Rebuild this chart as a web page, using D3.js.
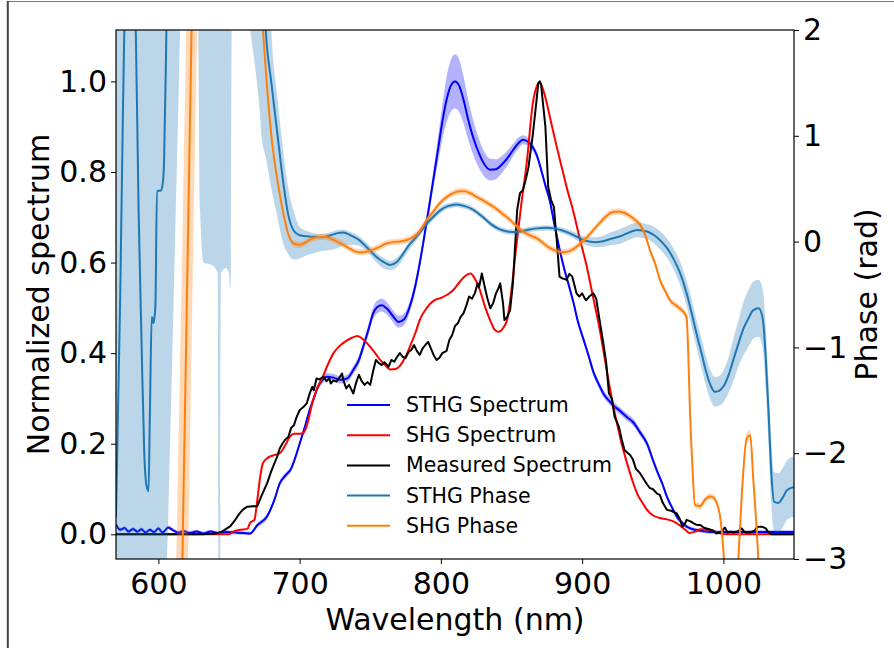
<!DOCTYPE html>
<html>
<head>
<meta charset="utf-8">
<script src="https://cdn.jsdelivr.net/npm/d3@7"></script>
<style>
  body { margin: 0; background: #fff; }
  svg { display: block; font-family: "DejaVu Sans", sans-serif; }
</style>
</head>
<body>
<svg id="chart" width="894" height="648"></svg>
<script>
// ---- data ----
var xTicks = [600, 700, 800, 900, 1000];
var specTicks = [0.0, 0.2, 0.4, 0.6, 0.8, 1.0];
var phaseTicks = [-3, -2, -1, 0, 1, 2];
var legendLabels = ["STHG Spectrum", "SHG Spectrum", "Measured Spectrum", "STHG Phase", "SHG Phase"];

// STHG spectrum (blue) with half-width of shaded band
var sthgSpecWl = [570,573,576,579,582,585,588,591,594,597,600,603,607,610,614,618,622,627,632,637,642,648,654,660,665,670,677,682,686,690,694,697,700,704,707,710,713,716,719,724,729,734,738,742,745,749,752,755,758,762,766,770,774,778,782,785,789,792,795,798,801,804,807,810,813,816,819,823,827,831,835,839,843,847,851,855,858,861,865,868,871,874,877,880,884,887,891,894,897,901,905,908,912,915,919,922,927,932,936,941,946,950,953,957,960,964,967,971,974,980,986,995,1010,1030,1050];
var sthgSpecVal = [0.022,0.010,0.014,0.006,0.012,0.006,0.011,0.004,0.010,0.005,0.013,0.004,0.015,0.010,0.004,0.007,0.003,0.006,0.002,0.006,0.003,0.005,0.004,0.003,0.002,0.020,0.040,0.075,0.113,0.130,0.145,0.170,0.200,0.240,0.274,0.300,0.326,0.340,0.348,0.346,0.341,0.345,0.363,0.385,0.414,0.455,0.488,0.502,0.506,0.498,0.482,0.469,0.475,0.503,0.550,0.598,0.672,0.730,0.790,0.850,0.910,0.959,0.990,1.000,0.990,0.960,0.920,0.875,0.841,0.816,0.805,0.806,0.816,0.830,0.848,0.864,0.871,0.868,0.855,0.836,0.805,0.770,0.738,0.690,0.630,0.590,0.545,0.510,0.470,0.430,0.390,0.358,0.330,0.311,0.295,0.285,0.272,0.258,0.248,0.225,0.200,0.165,0.140,0.110,0.083,0.057,0.039,0.025,0.017,0.010,0.007,0.005,0.005,0.005,0.005];
var sthgSpecErr = [0.004,0.004,0.004,0.004,0.004,0.004,0.004,0.004,0.004,0.004,0.004,0.004,0.004,0.004,0.004,0.004,0.004,0.004,0.004,0.004,0.004,0.004,0.004,0.004,0.004,0.005,0.006,0.006,0.006,0.006,0.006,0.006,0.007,0.007,0.007,0.007,0.008,0.008,0.008,0.008,0.008,0.008,0.009,0.010,0.011,0.012,0.013,0.014,0.014,0.014,0.013,0.013,0.013,0.012,0.012,0.012,0.014,0.017,0.020,0.028,0.038,0.050,0.057,0.060,0.058,0.052,0.045,0.038,0.032,0.027,0.024,0.022,0.019,0.017,0.014,0.012,0.010,0.009,0.008,0.008,0.008,0.008,0.008,0.008,0.008,0.008,0.008,0.008,0.008,0.008,0.008,0.008,0.008,0.008,0.008,0.008,0.008,0.008,0.008,0.008,0.007,0.007,0.006,0.006,0.006,0.005,0.005,0.005,0.004,0.004,0.004,0.004,0.004,0.004,0.004];

// SHG spectrum (red)
var shgSpecWl = [570,650,653,658,663,665,668,670,672,674,677,681,686,690,693,696,700,703,706,709,712,716,720,724,728,732,737,741,745,750,754,757,761,764,768,771,775,778,782,785,790,795,800,805,809,813,817,821,824,828,831,835,838,841,844,847,850,853,857,861,865,868,870,872,875,878,882,886,889,894,898,903,908,912,917,921,925,928,932,936,939,943,946,950,955,960,965,969,973,976,980,984,990,995,998,1005,1050];
var shgSpecVal = [0,0,0.006,0.010,0.012,0.026,0.032,0.075,0.125,0.157,0.168,0.174,0.179,0.198,0.215,0.222,0.222,0.225,0.250,0.290,0.319,0.345,0.375,0.400,0.415,0.425,0.434,0.438,0.430,0.414,0.398,0.385,0.372,0.364,0.365,0.372,0.392,0.414,0.445,0.473,0.500,0.516,0.522,0.530,0.540,0.556,0.570,0.576,0.565,0.536,0.505,0.472,0.452,0.447,0.455,0.475,0.540,0.625,0.730,0.826,0.950,0.990,0.998,0.985,0.952,0.910,0.856,0.805,0.767,0.710,0.657,0.595,0.520,0.460,0.370,0.300,0.240,0.200,0.155,0.115,0.090,0.068,0.054,0.042,0.036,0.033,0.028,0.020,0.010,0.003,0.006,0.011,0.010,0.005,0.002,0,0];

// measured spectrum (black)
var measWl = [570,600,630,641,645,648,651,654,657,660,663,667,670,673,677,680,684,686,688,690,692,694,696,698,700,703,705,707,709,710,712,714,717,719,721,722,724,726,728,730,731,733,735,738,740,742,744,746,748,750,752,754,756,758,760,763,765,767,769,771,773,775,777,779,781,783,785,787,789,791,793,795,797,799,801,804,806,808,810,812,814,816,818,820,822,824,826,827,829,831,833,835,837,839,841,842,844,845,847,849,851,853,854,856,858,860,862,863,865,867,869,870,871,872,874,876,878,880,882,884,886,889,891,893,895,896,898,900,902,903,905,908,910,912,915,917,919,921,923,926,928,930,932,934,936,938,941,943,946,948,950,953,955,957,960,963,967,969,971,973,974,977,979,981,984,986,988,991,993,995,998,1001,1003,1005,1007,1010,1013,1015,1017,1019,1022,1024,1026,1028,1030,1032,1034,1050];
var measVal = [0,0,0,0.002,0.006,0.012,0.018,0.030,0.044,0.055,0.061,0.062,0.062,0.085,0.113,0.140,0.171,0.190,0.201,0.210,0.215,0.235,0.241,0.260,0.274,0.282,0.289,0.310,0.326,0.318,0.344,0.342,0.348,0.338,0.345,0.333,0.340,0.337,0.345,0.355,0.340,0.322,0.330,0.311,0.335,0.352,0.338,0.330,0.336,0.330,0.360,0.385,0.378,0.374,0.380,0.370,0.385,0.381,0.392,0.400,0.392,0.389,0.402,0.407,0.418,0.405,0.396,0.410,0.418,0.425,0.410,0.395,0.385,0.390,0.400,0.405,0.429,0.440,0.460,0.466,0.480,0.488,0.505,0.525,0.520,0.532,0.554,0.545,0.576,0.547,0.520,0.499,0.510,0.532,0.545,0.554,0.510,0.473,0.480,0.495,0.554,0.660,0.716,0.753,0.760,0.782,0.810,0.834,0.880,0.937,0.996,1.000,0.992,0.960,0.900,0.767,0.738,0.723,0.650,0.569,0.565,0.562,0.575,0.569,0.545,0.532,0.525,0.532,0.520,0.517,0.525,0.532,0.520,0.480,0.422,0.380,0.311,0.300,0.260,0.238,0.210,0.186,0.180,0.175,0.165,0.145,0.135,0.125,0.110,0.102,0.100,0.090,0.087,0.070,0.054,0.052,0.046,0.035,0.017,0.025,0.032,0.028,0.024,0.021,0.020,0.015,0.013,0.010,0.008,0.002,0.004,0.015,0.004,0.006,0.004,0.006,0.013,0.005,0.004,0.004,0.008,0.016,0.017,0.016,0.013,0.004,0,0];

// STHG phase (rad) with lower / upper edge of its band
var sthgPhaseWl = [570,573,575,577,580,582,584,586,588,590,591.5,593,594,595.3,596.6,597.9,599,601.7,603,604,605.4,606,607,610,614,616,620,627,628,629.5,632,638,642,642.7,643.6,644.3,648,650,650.7,651.3,652,656,660,664,668,672,673,676,680,684,688,692,696,700,705,710,716,722,727,731,736,742,748,754,759,764,769,773,777,781,786,790,795,800,805,811,817,823,829,835,841,847,852,857,862,868,874,880,886,891,897,903,909,914,920,927,933,939,946,951,955,960,965,970,974,978,981,985,988,991,994,997,1000,1004,1007,1011,1014,1018,1021,1025,1028,1030,1032,1034,1036,1039,1042,1045,1050];
var sthgPhaseVal = [-2.6,-0.5,1.3,2.6,3.0,2.8,2.0,0.3,-0.9,-2.0,-2.3,-2.36,-1.62,-0.71,-0.77,-0.6,0.48,0.48,0.54,0.74,1.76,2.3,3.0,4,4,4,4,4,4,4,4,4,4,4,4,4,4,4,4,4,4,4,4,4,3.9,3.3,2.9,2.0,1.5,1.05,0.6,0.25,0.1,0.06,0.05,0.045,0.04,0.06,0.08,0.085,0.06,0.016,-0.06,-0.14,-0.19,-0.22,-0.19,-0.12,-0.04,0.02,0.1,0.17,0.24,0.30,0.335,0.35,0.335,0.30,0.24,0.17,0.12,0.095,0.09,0.097,0.112,0.125,0.13,0.125,0.105,0.08,0.04,0.005,-0.005,0.0,0.025,0.05,0.085,0.11,0.095,0.06,0.016,-0.06,-0.17,-0.32,-0.49,-0.70,-0.87,-1.08,-1.24,-1.36,-1.42,-1.41,-1.37,-1.25,-1.12,-0.95,-0.83,-0.72,-0.65,-0.63,-0.74,-1.1,-1.62,-2.2,-2.46,-2.47,-2.42,-2.35,-2.32];
var sthgPhaseLo = [-6,-6,-6,-6,-6,-6,-6,-6,-6,-6,-6,-6,-6,-6,-6,-6,-6,-6,-6,-6,-6,-3.2,-2.6,-1,1.2,2.2,2.5,2.5,2.2,0.3,-0.2,-0.22,-0.3,-4,-4,-0.3,-0.25,-0.3,-0.45,-0.3,2.2,2.5,2.5,2.1,1.7,1.2,1.0,0.8,0.5,0.25,0.0,-0.12,-0.17,-0.16,-0.13,-0.11,-0.09,-0.08,-0.06,-0.04,-0.03,-0.04,-0.1,-0.19,-0.25,-0.27,-0.24,-0.17,-0.09,-0.02,0.07,0.14,0.21,0.27,0.31,0.325,0.31,0.275,0.215,0.145,0.095,0.07,0.065,0.072,0.087,0.10,0.105,0.10,0.08,0.05,0.005,-0.035,-0.05,-0.05,-0.035,-0.02,0.015,0.04,0.025,-0.02,-0.07,-0.15,-0.27,-0.43,-0.61,-0.83,-1.0,-1.22,-1.38,-1.5,-1.56,-1.55,-1.52,-1.42,-1.32,-1.17,-1.08,-0.99,-0.92,-0.90,-1.02,-1.4,-1.92,-2.5,-2.74,-2.75,-2.70,-2.63,-2.60];
var sthgPhaseHi = [6,6,6,6,6,6,6,6,6,6,6,6,6,6,6,6,6,6,6,6,6,6,6,6,6,6,6,6,6,6,6,6,6,6,6,6,6,6,6,6,6,6,6,6,6,6,6,6,2.0,1.4,0.9,0.5,0.28,0.14,0.1,0.08,0.07,0.09,0.11,0.115,0.09,0.05,-0.02,-0.1,-0.15,-0.18,-0.15,-0.09,-0.01,0.05,0.13,0.2,0.27,0.33,0.36,0.375,0.36,0.325,0.265,0.195,0.145,0.12,0.115,0.122,0.137,0.15,0.155,0.15,0.13,0.11,0.075,0.045,0.04,0.05,0.085,0.12,0.155,0.18,0.165,0.14,0.10,0.03,-0.07,-0.21,-0.37,-0.57,-0.74,-0.94,-1.10,-1.22,-1.28,-1.27,-1.22,-1.08,-0.92,-0.73,-0.58,-0.45,-0.38,-0.36,-0.46,-0.8,-1.32,-1.9,-2.18,-2.19,-2.14,-2.07,-2.03];

// SHG phase (rad) with half-width of its band
var shgPhaseWl = [570,610,612,617,620,623.5,627,630,660,668,671,674,677,680,684,688,692,696,700,704,707,712,717,721,724,728,731,736,740,745,749,755,761,766,771,776,781,785,790,795,799,804,809,813,817,821,825,831,837,843,849,854,858,863,868,873,877,882,887,891,896,901,906,912,917,922,926,930,934,938,941,945,948,952,955,959,962,966,969,972.6,974,975,976.4,978,979.9,983.4,987,990.5,993,995.3,998,1000.4,1003,1008,1010.6,1013,1016.5,1019,1021.2,1024.7,1027,1050];
var shgPhaseVal = [-8,-8,-6.5,-3.0,-0.7,2.0,4.7,6,6,3.5,2.6,2.0,1.45,1.0,0.6,0.3,0.07,-0.02,-0.03,-0.01,0.016,0.04,0.047,0.035,0.016,-0.01,-0.03,-0.07,-0.095,-0.1,-0.09,-0.06,-0.02,-0.005,0.0,0.015,0.05,0.1,0.205,0.29,0.36,0.42,0.46,0.475,0.475,0.455,0.425,0.38,0.33,0.27,0.205,0.14,0.095,0.06,0.03,-0.02,-0.06,-0.09,-0.10,-0.09,-0.05,0.01,0.08,0.17,0.24,0.28,0.285,0.27,0.24,0.2,0.16,0.05,-0.08,-0.22,-0.36,-0.47,-0.55,-0.6,-0.63,-0.68,-0.72,-1.0,-1.62,-2.1,-2.49,-2.5,-2.44,-2.41,-2.42,-2.47,-2.63,-3.0,-3.8,-3.8,-3.0,-2.4,-1.86,-1.83,-2.25,-3.0,-3.8,-3.8];
var shgPhaseErr = [3,3,3,3,3,3,3,3,0.05,0.05,0.05,0.05,0.04,0.03,0.03,0.03,0.03,0.03,0.03,0.03,0.03,0.03,0.03,0.03,0.03,0.03,0.03,0.03,0.03,0.03,0.03,0.03,0.03,0.03,0.03,0.03,0.03,0.03,0.03,0.03,0.03,0.03,0.03,0.03,0.03,0.03,0.03,0.03,0.03,0.03,0.03,0.03,0.03,0.03,0.03,0.03,0.03,0.03,0.03,0.03,0.03,0.03,0.03,0.03,0.03,0.03,0.03,0.03,0.03,0.03,0.03,0.03,0.03,0.03,0.03,0.03,0.03,0.03,0.03,0.03,0.03,0.03,0.03,0.03,0.03,0.03,0.03,0.03,0.03,0.03,0.03,0.03,0.03,0.03,0.03,0.04,0.05,0.05,0.05,0.05,0.05,0.05];

function zipSeries(wl, val, lo, hi) {
  return wl.map(function(w, i) {
    return { wl: w, v: val[i], lo: lo ? lo[i] : null, hi: hi ? hi[i] : null };
  });
}

var sthgSpec = zipSeries(sthgSpecWl, sthgSpecVal,
  sthgSpecVal.map(function(v, i) { return v - sthgSpecErr[i]; }),
  sthgSpecVal.map(function(v, i) { return v + sthgSpecErr[i]; }));
var shgSpec = zipSeries(shgSpecWl, shgSpecVal);
var meas = zipSeries(measWl, measVal);
var sthgPhase = zipSeries(sthgPhaseWl, sthgPhaseVal, sthgPhaseLo, sthgPhaseHi);
var shgPhase = zipSeries(shgPhaseWl, shgPhaseVal,
  shgPhaseVal.map(function(v, i) { return v - shgPhaseErr[i]; }),
  shgPhaseVal.map(function(v, i) { return v + shgPhaseErr[i]; }));

// ---- layout ----
var svg = d3.select("#chart"),
    width = +svg.attr("width"),
    height = +svg.attr("height"),
    margin = { top: 30, right: 100, bottom: 89, left: 116 },
    plotW = width - margin.left - margin.right,
    plotH = height - margin.top - margin.bottom;

// frame of the original screenshot
svg.append("line").attr("x1", 7).attr("x2", width).attr("y1", 1.5).attr("y2", 1.5)
  .attr("stroke", "#777").attr("stroke-width", 1);
svg.append("line").attr("x1", 7.8).attr("x2", 7.8).attr("y1", 1).attr("y2", height)
  .attr("stroke", "#444").attr("stroke-width", 2);

var x = d3.scaleLinear().domain([570, 1050]).range([0, plotW]);
var ySpec = d3.scaleLinear().domain([-0.0545, 1.1135]).range([plotH, 0]);
var yPhase = d3.scaleLinear().domain([-3, 2]).range([plotH, 0]);

var g = svg.append("g").attr("transform", "translate(" + margin.left + "," + margin.top + ")");

svg.append("defs").append("clipPath").attr("id", "plotclip")
  .append("rect").attr("width", plotW).attr("height", plotH);

var plot = g.append("g").attr("clip-path", "url(#plotclip)");

var smooth = d3.curveMonotoneX;

// spectrum axis
plot.append("path").datum(sthgSpec)
  .attr("fill", "blue").attr("fill-opacity", 0.3)
  .attr("d", d3.area().curve(smooth).x(function(d) { return x(d.wl); })
    .y0(function(d) { return ySpec(d.lo); }).y1(function(d) { return ySpec(d.hi); }));

var specLine = d3.line().curve(smooth)
  .x(function(d) { return x(d.wl); }).y(function(d) { return ySpec(d.v); });

plot.append("path").datum(sthgSpec).attr("fill", "none").attr("stroke", "blue")
  .attr("stroke-width", 2).attr("d", specLine);
plot.append("path").datum(shgSpec).attr("fill", "none").attr("stroke", "red")
  .attr("stroke-width", 2).attr("d", specLine);
plot.append("path").datum(meas).attr("fill", "none").attr("stroke", "black")
  .attr("stroke-width", 2).attr("stroke-linejoin", "round")
  .attr("d", d3.line().x(function(d) { return x(d.wl); }).y(function(d) { return ySpec(d.v); }));

// phase axis (twin, drawn on top)
var phaseArea = d3.area().curve(smooth).x(function(d) { return x(d.wl); })
  .y0(function(d) { return yPhase(d.lo); }).y1(function(d) { return yPhase(d.hi); });
var phaseLine = d3.line().curve(smooth)
  .x(function(d) { return x(d.wl); }).y(function(d) { return yPhase(d.v); });

plot.append("path").datum(sthgPhase).attr("fill", "#1f77b4").attr("fill-opacity", 0.3)
  .attr("d", phaseArea);
plot.append("path").datum(sthgPhase).attr("fill", "none").attr("stroke", "#1f77b4")
  .attr("stroke-width", 2).attr("d", phaseLine);
plot.append("path").datum(shgPhase).attr("fill", "#ff7f0e").attr("fill-opacity", 0.3)
  .attr("d", phaseArea);
plot.append("path").datum(shgPhase).attr("fill", "none").attr("stroke", "#ff7f0e")
  .attr("stroke-width", 2).attr("d", phaseLine);

// axes
var tickFont = 30;
var xAxis = g.append("g").attr("transform", "translate(0," + plotH + ")")
  .call(d3.axisBottom(x).tickValues(xTicks).tickSize(5).tickPadding(7).tickFormat(d3.format("d")));
var yAxisL = g.append("g")
  .call(d3.axisLeft(ySpec).tickValues(specTicks).tickSize(5).tickPadding(4).tickFormat(d3.format(".1f")));
var yAxisR = g.append("g").attr("transform", "translate(" + plotW + ",0)")
  .call(d3.axisRight(yPhase).tickValues(phaseTicks).tickSize(5).tickPadding(4)
    .tickFormat(function(d) { return d < 0 ? "\u2212" + Math.abs(d) : d; }));

[xAxis, yAxisL, yAxisR].forEach(function(a) {
  a.select(".domain").remove();
  a.selectAll(".tick line").attr("stroke", "#000").attr("stroke-width", 1);
  a.selectAll(".tick text").attr("fill", "#000")
    .style("font-family", "DejaVu Sans").style("font-size", tickFont + "px");
});
xAxis.selectAll(".tick text").attr("dy", "0.75em");

g.append("rect").attr("width", plotW).attr("height", plotH)
  .attr("fill", "none").attr("stroke", "#000").attr("stroke-width", 1.2);

// axis labels
g.append("text").attr("x", plotW / 2).attr("y", plotH + 71)
  .attr("text-anchor", "middle")
  .style("font-size", "30px").text("Wavelength (nm)");
g.append("text").attr("transform", "translate(" + (-78) + "," + (plotH / 2) + ") rotate(-90)")
  .attr("text-anchor", "middle").attr("dominant-baseline", "central")
  .style("font-size", "30px").text("Normalized spectrum");
g.append("text").attr("transform", "translate(" + (plotW + 72) + "," + (plotH / 2) + ") rotate(-90)")
  .attr("text-anchor", "middle").attr("dominant-baseline", "central")
  .style("font-size", "30px").text("Phase (rad)");

// legend (no frame)
var legendColors = ["blue", "red", "black", "#1f77b4", "#ff7f0e"];
var legend = g.append("g").attr("transform", "translate(" + (347 - margin.left) + "," + (405 - margin.top) + ")");
var item = legend.selectAll("g").data(legendLabels).enter().append("g")
  .attr("transform", function(d, i) { return "translate(0," + (i * 30.2) + ")"; });
item.append("line").attr("x1", 0).attr("x2", 43).attr("y1", 0).attr("y2", 0)
  .attr("stroke", function(d, i) { return legendColors[i]; }).attr("stroke-width", 2);
item.append("text").attr("x", 59).attr("y", 0).attr("dominant-baseline", "central")
  .style("font-size", "20.5px").text(function(d) { return d; });
</script>
</body>
</html>
